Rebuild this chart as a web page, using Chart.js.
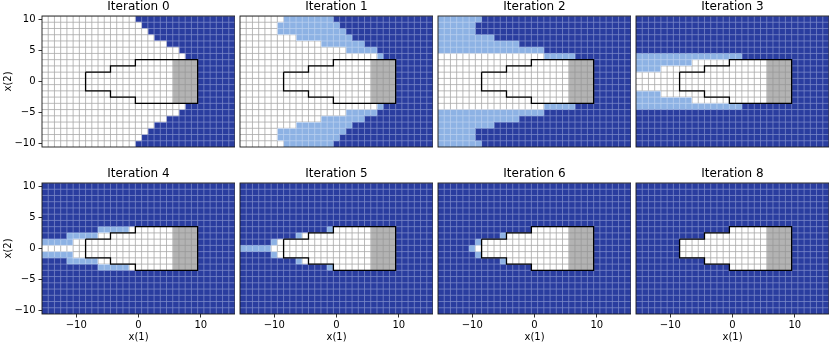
<!DOCTYPE html>
<html>
<head>
<meta charset="utf-8">
<script src="https://cdn.jsdelivr.net/npm/chart.js@4.4.1/dist/chart.umd.min.js"></script>
<style>
  html, body { margin: 0; padding: 0; background: #fff; }
  #fig { position: relative; width: 832px; height: 344px; overflow: hidden; }
  #fig canvas { position: absolute; }
</style>
</head>
<body>
<div id="fig"></div>
<script>
// iterations shown, row by row
const iterations = [0, 1, 2, 3, 4, 5, 6, 8];

// cell centres of the grid
const xCells = [-15, -14, -13, -12, -11, -10, -9, -8, -7, -6, -5, -4, -3, -2, -1, 0, 1, 2, 3, 4, 5, 6, 7, 8, 9, 10, 11, 12, 13, 14, 15];
const yCells = [10, 9, 8, 7, 6, 5, 4, 3, 2, 1, 0, -1, -2, -3, -4, -5, -6, -7, -8, -9, -10];

// iteration in which each cell drops out (one row per yCells entry, one char per xCells entry)
// 0 = out from the start, T = target set, G = shaded part of the target
const removedAt = [
  '2222222 11111111 0000000000000000',
  '222222 1111111111 000000000000000',
  '222222 11111111111 00000000000000',
  '222222222 111111111 0000000000000',
  '2222222222222 1111111 00000000000',
  '22222222222222222 11111 000000000',
  '33333333333333333 22222 1 00000000',
  '333333333 44444 5 TTTTTT GGGG 000000',
  '3333 44444 5 6 TTTTTTTTTT GGGG 000000',
  '44444 5 6 TTTTTTTTTTTTTT GGGG 000000',
  '55555 6 7 TTTTTTTTTTTTTT GGGG 000000',
  '44444 5 6 TTTTTTTTTTTTTT GGGG 000000',
  '3333 44444 5 6 TTTTTTTTTT GGGG 000000',
  '333333333 44444 5 TTTTTT GGGG 000000',
  '33333333333333333 22222 1 00000000',
  '22222222222222222 11111 000000000',
  '2222222222222 1111111 00000000000',
  '222222222 111111111 0000000000000',
  '222222 11111111111 00000000000000',
  '222222 1111111111 000000000000000',
  '2222222 11111111 0000000000000000'
];

// outline of the target set
const targetX = [-8.5, -4.5, -4.5, -0.5, -0.5, 9.5, 9.5, -0.5, -0.5, -4.5, -4.5, -8.5, -8.5];
const targetY = [1.5, 1.5, 2.5, 2.5, 3.5, 3.5, -3.5, -3.5, -2.5, -2.5, -1.5, -1.5, 1.5];

const xTicks = [-10, 0, 10];
const yTicks = [-10, -5, 0, 5, 10];

const FONT = "'DejaVu Sans', sans-serif";
const palette = {
  dark:  { fill: '#2a3d9f', edge: '#7a88c8' },
  light: { fill: '#8db2e4', edge: '#b9cfef' },
  open:  { fill: '#ffffff', edge: '#a8a8a8' },
  goal:  { fill: '#b3b3b3', edge: '#999999' }
};

const grid = removedAt.map(s => s.replace(/ /g, ''));
grid.forEach((row, i) => { if (row.length !== xCells.length) throw new Error('row ' + i + ' has ' + row.length); });

function cellState(code, iter) {
  if (code === 'G') return 'goal';
  if (code === 'T') return 'open';
  const step = Number(code);
  if (step === 0 || step < iter) return 'dark';
  if (step === iter) return 'light';
  return 'open';
}

function cellData(iter, state) {
  const pts = [];
  grid.forEach((row, r) => {
    row.split('').forEach((code, c) => {
      if (cellState(code, iter) === state) {
        pts.push({ x: xCells[c], y: [yCells[r] - 0.5, yCells[r] + 0.5] });
      }
    });
  });
  return pts;
}

const fmt = v => (v < 0 ? '\u2212' + Math.abs(v) : String(v));

// cell edges, coloured per cell class, drawn right before the target outline
const cellLines = {
  id: 'cellLines',
  beforeDatasetDraw(chart, args) {
    if (args.meta.type !== 'line') return;
    const { ctx, chartArea: a, scales: { x, y } } = chart;
    const lines = new Path2D();
    xCells.forEach(v => {
      const px = x.getPixelForValue(v + 0.5);
      lines.moveTo(px, a.top); lines.lineTo(px, a.bottom);
    });
    yCells.forEach(v => {
      const py = y.getPixelForValue(v + 0.5);
      lines.moveTo(a.left, py); lines.lineTo(a.right, py);
    });
    chart.data.datasets.forEach((ds, i) => {
      if (!ds.edge) return;
      const meta = chart.getDatasetMeta(i);
      if (!meta.data.length) return;
      ctx.save();
      ctx.beginPath();
      meta.data.forEach(el => {
        const p = el.getProps(['x', 'y', 'base', 'width'], true);
        ctx.rect(p.x - p.width / 2, Math.min(p.y, p.base), p.width, Math.abs(p.base - p.y));
      });
      ctx.clip();
      ctx.strokeStyle = ds.edge;
      ctx.lineWidth = 0.8;
      ctx.stroke(lines);
      ctx.restore();
    });
  }
};

const frame = {
  id: 'frame',
  afterDatasetsDraw(chart) {
    const { ctx, chartArea: a } = chart;
    ctx.save();
    ctx.strokeStyle = '#1a1a1a';
    ctx.lineWidth = 0.9;
    ctx.strokeRect(a.left, a.top, a.right - a.left, a.bottom - a.top);
    ctx.restore();
  }
};

const colLeft = [42, 240, 438, 636];
const rowTop = [16, 183];
const fig = document.getElementById('fig');

iterations.forEach((iter, i) => {
  const col = i % 4, row = Math.floor(i / 4);
  const showY = col === 0, showX = row === 1;
  const canvas = document.createElement('canvas');
  canvas.width = 235; canvas.height = 177;
  canvas.style.left = (colLeft[col] - 42) + 'px';
  canvas.style.top = (rowTop[row] - 16) + 'px';
  fig.appendChild(canvas);

  const bars = ['open', 'goal', 'light', 'dark'].map(state => ({
    type: 'bar',
    data: cellData(iter, state),
    backgroundColor: palette[state].fill,
    edge: palette[state].edge,
    borderWidth: 0,
    inflateAmount: 0.4,
    grouped: false,
    barPercentage: 1,
    categoryPercentage: 1,
    xAxisID: 'x', yAxisID: 'y',
    order: 1
  }));

  const outline = {
    type: 'line',
    data: targetX.map((x, k) => ({ x, y: targetY[k] })),
    borderColor: '#000',
    borderWidth: 1.3,
    pointRadius: 0,
    fill: false,
    tension: 0,
    xAxisID: 'x', yAxisID: 'y',
    order: 0
  };

  new Chart(canvas, {
    type: 'bar',
    data: { datasets: bars.concat([outline]) },
    options: {
      responsive: false,
      animation: false,
      events: [],
      layout: { padding: 0 },
      plugins: {
        legend: { display: false },
        tooltip: { enabled: false },
        title: {
          display: true, text: 'Iteration ' + iter, fullSize: false, color: '#000',
          font: { family: FONT, size: 12, weight: 'normal', lineHeight: 1.2 },
          padding: { top: 0, bottom: 1.6 }
        }
      },
      scales: {
        x: {
          type: 'linear', min: -15.5, max: 15.5, offset: false,
          afterBuildTicks: s => { s.ticks = xTicks.map(v => ({ value: v })); },
          afterFit: s => { s.height = 30; },
          grid: { display: showX, offset: false, drawOnChartArea: false, drawTicks: true, tickLength: 3.5, tickColor: '#000', tickWidth: 0.8 },
          border: { display: false },
          ticks: { display: showX, color: '#000', font: { family: FONT, size: 10 }, padding: 1.5, maxRotation: 0, autoSkip: false, callback: fmt },
          title: { display: showX, text: 'x(1)', color: '#000', font: { family: FONT, size: 10 }, padding: { top: 0, bottom: 1 } }
        },
        y: {
          type: 'linear', min: -10.5, max: 10.5,
          afterBuildTicks: s => { s.ticks = yTicks.map(v => ({ value: v })); },
          afterFit: s => { s.width = 42; },
          grid: { display: showY, drawOnChartArea: false, drawTicks: true, tickLength: 3.5, tickColor: '#000', tickWidth: 0.8 },
          border: { display: false },
          ticks: { display: showY, color: '#000', font: { family: FONT, size: 10 }, padding: 3, autoSkip: false, callback: fmt },
          title: { display: showY, text: 'x(2)', color: '#000', font: { family: FONT, size: 10 }, padding: { top: 2, bottom: 0 } }
        }
      }
    },
    plugins: [cellLines, frame]
  });
});
</script>
</body>
</html>
